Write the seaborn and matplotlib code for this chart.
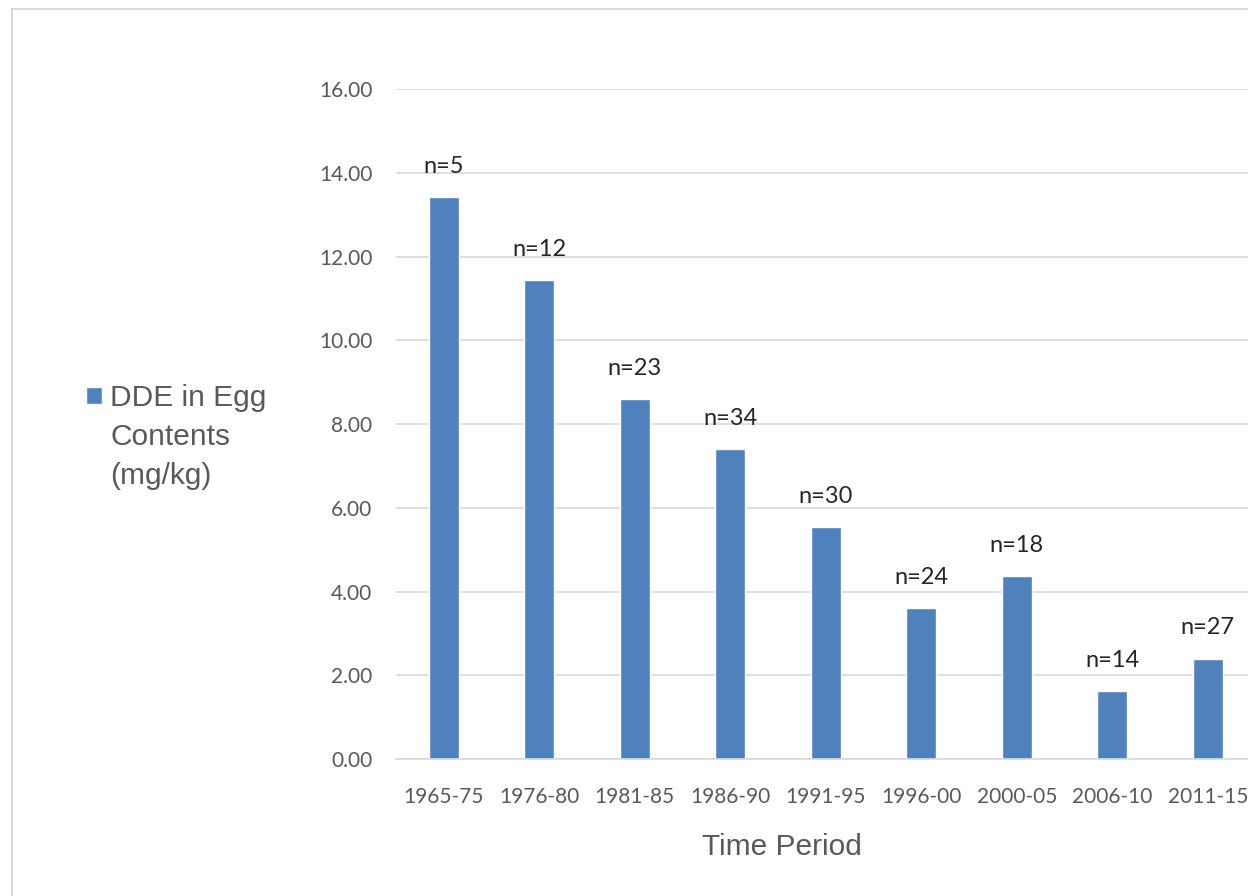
import matplotlib
matplotlib.use("Agg")
import matplotlib.pyplot as plt
from matplotlib.patches import Rectangle
import seaborn as sns

# data
periods = ["1965-75", "1976-80", "1981-85", "1986-90", "1991-95",
           "1996-00", "2000-05", "2006-10", "2011-15"]
dde = [13.42, 11.44, 8.60, 7.40, 5.53, 3.60, 4.38, 1.62, 2.40]
n_labels = ["n=5", "n=12", "n=23", "n=34", "n=30", "n=24", "n=18", "n=14", "n=27"]
yticks = [0, 2, 4, 6, 8, 10, 12, 14, 16]

sns.set_style("white")
plt.rcParams["font.family"] = ["Lato", "DejaVu Sans"]

W, H = 1248, 896
fig = plt.figure(figsize=(W / 100, H / 100), dpi=100)
# axes run slightly past the right edge, as in the original crop
ax = fig.add_axes([396 / W, 1 - 759 / H, 859.5 / W, 670 / H])

sns.barplot(x=periods, y=dde, color="#4f81bd", width=0.31, saturation=1,
            label="DDE in Egg\nContents\n(mg/kg)", ax=ax)

ax.set_xlim(-0.5, 8.5)
ax.set_ylim(0, 16)
ax.set_yticks(yticks)
ax.set_yticklabels([f"{v:.2f}" for v in yticks])
ax.yaxis.grid(True, color="#d9d9d9", linewidth=1.2)
ax.set_axisbelow(True)
for s in ["top", "right", "left"]:
    ax.spines[s].set_visible(False)
ax.spines["bottom"].set_color("#d9d9d9")
ax.spines["bottom"].set_linewidth(1.2)
ax.tick_params(axis="both", length=0, labelcolor="#595959", labelsize=15)
ax.tick_params(axis="y", pad=17)
ax.tick_params(axis="x", pad=20)

ax.set_ylabel("")
ax.set_xlabel("Time Period", fontsize=21.5, color="#595959",
              family=["Liberation Sans", "DejaVu Sans"])
ax.xaxis.set_label_coords(0.449, -0.110)

# n labels above bars
for i, (v, lab) in enumerate(zip(dde, n_labels)):
    ax.annotate(lab, xy=(i, v), xytext=(0, 22), textcoords="offset points",
                ha="center", va="center", fontsize=17, color="#262626",
                annotation_clip=False)

# legend on the left, square aligned with the first line
leg = ax.legend(loc="upper left", bbox_to_anchor=(86 / W, 1 - 384 / H),
                bbox_transform=fig.transFigure, frameon=False,
                prop={"family": ["Liberation Sans", "DejaVu Sans"], "size": 21.5},
                handlelength=0.52, handleheight=0.52, handletextpad=0.3,
                borderaxespad=0, borderpad=0)
for t in leg.get_texts():
    t.set_color("#595959")
    t.set_linespacing(1.5)
for h in leg.legend_handles:
    h.set_y(h.get_y() + 30.0)

# light border of the chart area
fig.patches.append(Rectangle((12 / W, -0.1), 1.2, 1 - 9 / H + 0.1,
                             transform=fig.transFigure, fill=False,
                             edgecolor="#d9d9d9", linewidth=1.5))

fig.savefig("out.png", dpi=100)
